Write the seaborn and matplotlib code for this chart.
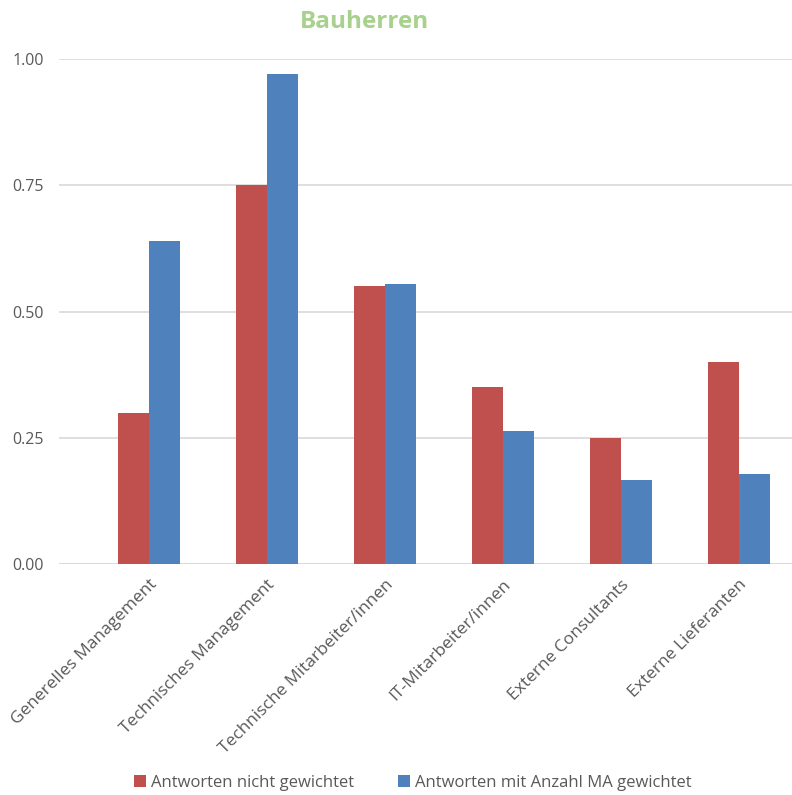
import matplotlib
matplotlib.use("Agg")
import matplotlib.pyplot as plt
import seaborn as sns
import pandas as pd

categories = ["Generelles Management", "Technisches Management",
              "Technische Mitarbeiter/innen", "IT-Mitarbeiter/innen",
              "Externe Consultants", "Externe Lieferanten"]
unweighted = [0.30, 0.75, 0.55, 0.35, 0.25, 0.40]
weighted = [0.64, 0.97, 0.555, 0.263, 0.166, 0.178]
series_names = ["Antworten nicht gewichtet", "Antworten mit Anzahl MA gewichtet"]
yticks = [0.0, 0.25, 0.5, 0.75, 1.0]

df = pd.DataFrame({
    "Kategorie": categories * 2,
    "Wert": unweighted + weighted,
    "Serie": [series_names[0]] * len(categories) + [series_names[1]] * len(categories),
})

sns.set_theme(style="white")
plt.rcParams["font.family"] = ["Open Sans", "DejaVu Sans"]

fig = plt.figure(figsize=(7.92, 7.95), dpi=100)
ax = fig.add_axes([59 / 792, 231 / 795, 733 / 792, 505 / 795])

palette = {series_names[0]: "#C0504D", series_names[1]: "#4F81BD"}
sns.barplot(data=df, x="Kategorie", y="Wert", hue="Serie", order=categories,
            hue_order=series_names, palette=palette, width=0.525, gap=0,
            saturation=1, linewidth=0, ax=ax, legend=True, zorder=3)

ax.set_ylim(0, 1.0)
ax.set_xlim(-0.763, 5.449)
ax.set_yticks(yticks)
ax.set_yticklabels([f"{t:.2f}" for t in yticks], fontsize=11.5, color="#595959")
ax.yaxis.grid(True, color="#D9D9D9", linewidth=1.2, zorder=0)
ax.set_axisbelow(True)
for s in ax.spines.values():
    s.set_visible(False)
ax.axhline(0, color="#D9D9D9", linewidth=1.2, zorder=2)
ax.tick_params(axis="both", length=0)
ax.tick_params(axis="y", pad=11)
ax.set_xlabel("")
ax.set_ylabel("")
ax.set_xticks(range(len(categories)))
ax.set_xticklabels(categories, rotation=45, ha="right", rotation_mode="anchor",
                   fontsize=12.5, color="#595959")
ax.tick_params(axis="x", pad=9)

fig.text(364 / 792, 1 - 22 / 795, "Bauherren", ha="center", va="center",
         fontsize=17.5, fontweight="bold", color="#A9D18E")

ax.legend(loc="center", bbox_to_anchor=(413 / 792, 1 - 783 / 795), bbox_transform=fig.transFigure,
          ncol=2, frameon=False, fontsize=12, handlelength=0.75, handleheight=0.75,
          handletextpad=0.3, columnspacing=2.6, labelcolor="#595959")

fig.savefig("out.png", dpi=100)
